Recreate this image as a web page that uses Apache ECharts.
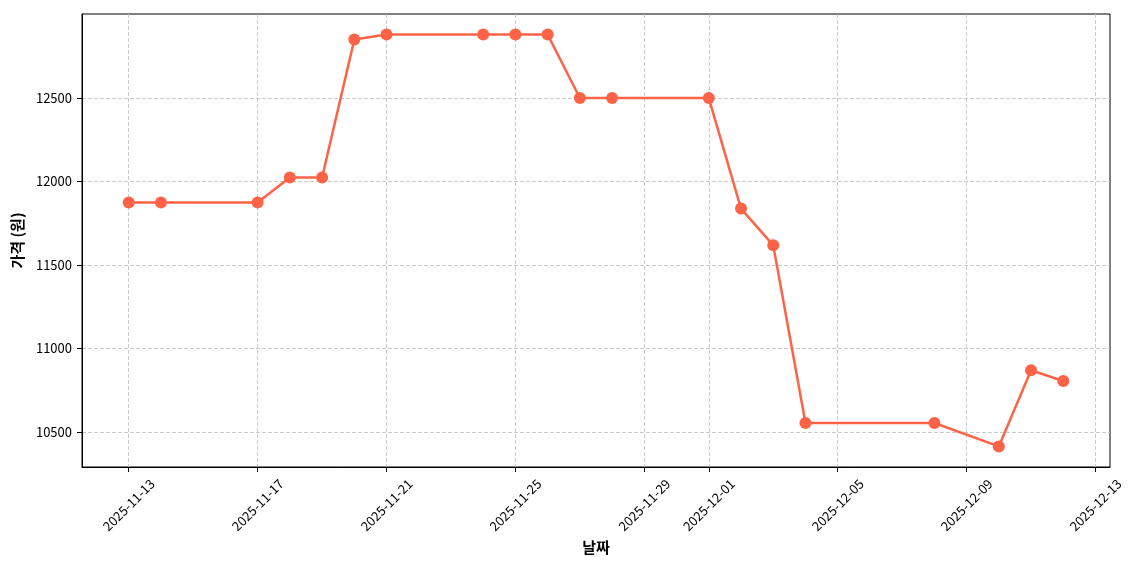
<!DOCTYPE html>
<html>
<head>
<meta charset="utf-8">
<script src="https://cdn.jsdelivr.net/npm/echarts@6/dist/echarts.min.js"></script>
<style>
  html, body { margin: 0; padding: 0; background: #fff; }
  #chart { width: 1140px; height: 570px; }
</style>
</head>
<body>
<div id="chart"></div>
<script>
// 날짜별 가격 데이터
const dates = [
    '2025-11-13', '2025-11-14', '2025-11-17', '2025-11-18', '2025-11-19',
    '2025-11-20', '2025-11-21', '2025-11-24', '2025-11-25', '2025-11-26',
    '2025-11-27', '2025-11-28', '2025-12-01', '2025-12-02', '2025-12-03',
    '2025-12-04', '2025-12-08', '2025-12-10', '2025-12-11', '2025-12-12'
];
const prices = [
    11874, 11874, 11874, 12024, 12024,
    12850, 12880, 12880, 12880, 12880,
    12500, 12500, 12500, 11838, 11618,
    10554, 10554, 10414, 10870, 10806
];
const xTickDates = [
    '2025-11-13', '2025-11-17', '2025-11-21', '2025-11-25', '2025-11-29',
    '2025-12-01', '2025-12-05', '2025-12-09', '2025-12-13'
];
const yTicks = [10500, 11000, 11500, 12000, 12500];

const FONT = '"Noto Sans CJK KR", "Noto Sans", sans-serif';

function toTime(d) {
    return +echarts.time.parse(d);
}

function createPriceChart(elementId) {
    // 시간축 대신 타임스탬프 값 축 사용 (불규칙한 눈금 위치)
    const xTicks = xTickDates.map(toTime);
    const first = toTime(dates[0]);
    const last = toTime(dates[dates.length - 1]);
    const pad = (last - first) * 0.05;

    const yMin = Math.min(...prices);
    const yMax = Math.max(...prices);
    const yPad = (yMax - yMin) * 0.05;

    const gridLine = {
        show: true,
        lineStyle: { color: '#bdbdbd', width: 0.8, type: [4, 2] }
    };

    const option = {
        backgroundColor: '#fff',
        animation: false,
        textStyle: { fontFamily: FONT },
        grid: {
            left: 82, right: 30, top: 14, bottom: 103,
            show: true, borderColor: '#000', borderWidth: 1,
            containLabel: false
        },
        xAxis: {
            type: 'value',
            min: first - pad,
            max: last + pad,
            name: '날짜',
            nameLocation: 'middle',
            nameGap: 70,
            nameTextStyle: { fontSize: 15, fontWeight: 'bold', color: '#000', fontFamily: FONT },
            axisLine: { show: true, onZero: false, lineStyle: { color: '#000', width: 1 } },
            axisTick: { show: true, length: 5, lineStyle: { color: '#000' }, customValues: xTicks },
            axisLabel: {
                customValues: xTicks,
                rotate: 45,
                align: 'center',
                verticalAlign: 'middle',
                fontSize: 13,
                color: '#000',
                margin: 38,
                fontFamily: FONT,
                formatter: v => echarts.time.format(v, '{yyyy}-{MM}-{dd}', false)
            },
            splitLine: gridLine
        },
        yAxis: {
            type: 'value',
            min: yMin - yPad,
            max: yMax + yPad,
            name: '가격 (원)',
            nameLocation: 'middle',
            nameGap: 56,
            nameRotate: 90,
            nameTextStyle: { fontSize: 15, fontWeight: 'bold', color: '#000', fontFamily: FONT },
            axisLine: { show: true, onZero: false, lineStyle: { color: '#000', width: 1 } },
            axisTick: { show: true, length: 5, lineStyle: { color: '#000' }, customValues: yTicks },
            axisLabel: {
                customValues: yTicks,
                fontSize: 13,
                color: '#000',
                margin: 10,
                fontFamily: FONT,
                formatter: v => String(v)
            },
            splitLine: gridLine
        },
        series: [
            {
                name: '가격',
                type: 'line',
                data: dates.map((d, i) => [toTime(d), prices[i]]),
                symbol: 'circle',
                symbolSize: 12,
                showAllSymbol: true,
                itemStyle: { color: '#ff6347' },
                lineStyle: { color: '#ff6347', width: 2.5 }
            }
        ]
    };

    const chart = echarts.init(document.getElementById(elementId));
    chart.setOption(option);
}

createPriceChart('chart');
</script>
</body>
</html>
